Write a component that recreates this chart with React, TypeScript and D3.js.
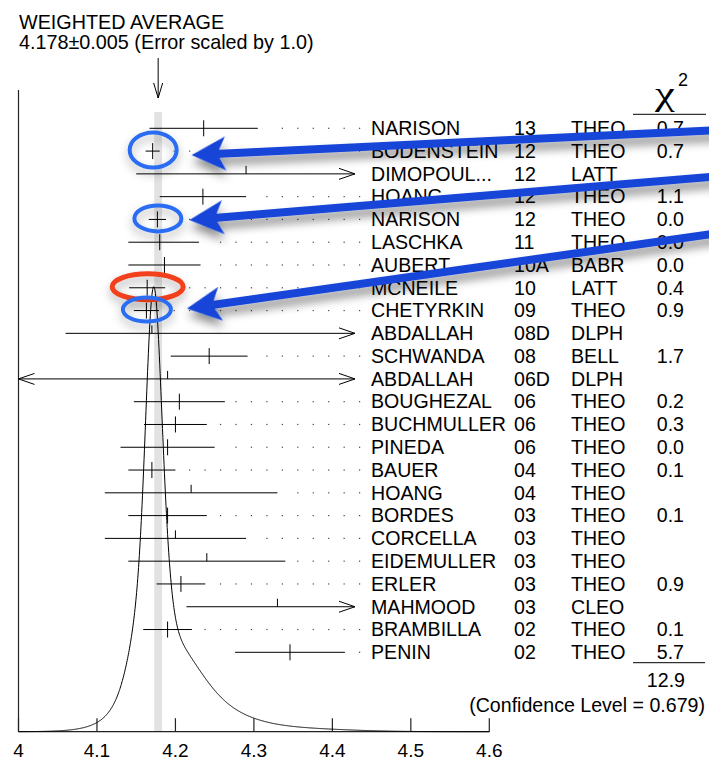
import React from "react";
import * as d3 from "d3";

// ---- measurements (mass in GeV) ----
const names = ["NARISON", "BODENSTEIN", "DIMOPOUL...", "HOANG", "NARISON", "LASCHKA", "AUBERT", "MCNEILE", "CHETYRKIN", "ABDALLAH", "SCHWANDA", "ABDALLAH", "BOUGHEZAL", "BUCHMULLER", "PINEDA", "BAUER", "HOANG", "BORDES", "CORCELLA", "EIDEMULLER", "ERLER", "MAHMOOD", "BRAMBILLA", "PENIN"];
const years = ["13", "12", "12", "12", "12", "11", "10A", "10", "09", "08D", "08", "06D", "06", "06", "06", "04", "04", "03", "03", "03", "03", "03", "02", "02"];
const techniques = ["THEO", "THEO", "LATT", "THEO", "THEO", "THEO", "BABR", "LATT", "THEO", "DLPH", "BELL", "DLPH", "THEO", "THEO", "THEO", "THEO", "THEO", "THEO", "THEO", "THEO", "THEO", "CLEO", "THEO", "THEO"];
const values = [4.236, 4.171, 4.29, 4.235, 4.177, 4.18, 4.186, 4.164, 4.163, 4.17, 4.243, 4.19, 4.205, 4.2, 4.19, 4.17, 4.22, 4.19, 4.2, 4.24, 4.207, 4.33, 4.19, 4.346];
const errMinus = [0.069, 0.009, 0.14, 0.055, 0.011, 0.04, 0.046, 0.023, 0.016, 0.11, 0.049, 0.4, 0.058, 0.04, 0.06, 0.03, 0.11, 0.05, 0.09, 0.1, 0.031, 0.116, 0.031, 0.07];
const errPlus = [0.069, 0.009, 0.14, 0.055, 0.011, 0.05, 0.046, 0.023, 0.016, 0.3, 0.049, 0.4, 0.058, 0.04, 0.06, 0.03, 0.11, 0.05, 0.09, 0.1, 0.031, 0.116, 0.031, 0.07];
// chi-square contribution; null = not used in the average
const chi2: (number | null)[] = [0.7, 0.7, null, 1.1, 0.0, 0.0, 0.0, 0.4, 0.9, null, 1.7, null, 0.2, 0.3, 0.0, 0.1, null, 0.1, null, null, 0.9, null, 0.1, 5.7];

const averageValue = 4.178;
const averageError = 0.005;
const errorScale = 1.0;
const chi2Total = 12.9;
const confidenceLevel = 0.679;

const xTicks = [4, 4.1, 4.2, 4.3, 4.4, 4.5, 4.6];

// highlighted entries (row index into the arrays above)
const circledRows = [1, 4, 7, 8];
const circleColors = ["#2a6cf2", "#2a6cf2", "#f2401c", "#2a6cf2"];
const circleRx = [23.5, 23.5, 35.5, 24];
const circleRy = [17.5, 13, 13, 12];
const pointerRows = [1, 4, 8];
const pointerSlopes = [-0.0474, -0.0827, -0.142];
const pointerOffsets = [
  [39, 4],
  [32, 0.6],
  [40.5, -2],
];

const W = 709;
const H = 759;
const FONT = "'Liberation Sans', Arial, Helvetica, sans-serif";
const FS = 19.6;

export default function App() {
  const x = d3.scaleLinear().domain([4, 4.6]).range([18.5, 489.3]);
  const rows = d3.range(names.length);
  const y = d3.scalePoint<number>().domain(rows).range([128.3, 652.3]);
  const baseY = 731.7;
  const plotTop = 90;
  const clipMin = 4.0;
  const clipMax = x.invert(355);

  // ideogram: each used measurement as a Gaussian of width sigma, area ~ 1/sigma
  const used = rows.filter((i) => chi2[i] !== null);
  const samples = d3.range(4, 4.6 + 1e-9, 0.0005);
  const density = samples.map((v) =>
    d3.sum(used, (i) => {
      const s = (errMinus[i] + errPlus[i]) / 2;
      const d = v - values[i];
      return Math.exp(-(d * d) / (2 * s * s)) / (s * s);
    })
  );
  const fMax = d3.max(density) as number;
  const yCurve = d3.scaleLinear().domain([0, fMax]).range([baseY, 286.7]);
  const curvePath = d3
    .line<number>()
    .x((_, k) => x(samples[k]))
    .y((d) => yCurve(d))(density) as string;

  // leader dots grid
  const dotLast = 359.6;
  const dotStep = 15.45;

  const colName = 371;
  const colYear = 514;
  const colTech = 571;
  const colChi = 684;

  const avgX = x(averageValue);

  const pointerPath = (len: number) =>
    `M0,0 L34,-17 L27.5,-4 L${len},-4 L${len},4 L27.5,4 L34,17 Z`;

  return (
    <svg
      width={W}
      height={H}
      viewBox={`0 0 ${W} ${H}`}
      style={{ position: "absolute", left: 0, top: 0, background: "#fff" }}
      fontFamily={FONT}
    >
      <defs>
        <filter id="soft-shadow" x="-20%" y="-150%" width="140%" height="400%">
          <feDropShadow dx="0" dy="7" stdDeviation="5" floodColor="#000" floodOpacity="0.45" />
        </filter>
        <filter id="ring-shadow" x="-60%" y="-80%" width="220%" height="260%">
          <feDropShadow dx="0" dy="5" stdDeviation="5" floodColor="#000" floodOpacity="0.3" />
        </filter>
      </defs>
      <rect width={W} height={H} fill="#fff" />

      {/* title */}
      <text x={19} y={29} fontSize={19.8} fill="#000">WEIGHTED AVERAGE</text>
      <text x={19} y={49} fontSize={19.8} fill="#000">
        {`${averageValue.toFixed(3)}±${averageError.toFixed(3)} (Error scaled by ${errorScale.toFixed(1)})`}
      </text>

      {/* average band */}
      <rect
        x={x(averageValue - averageError)}
        y={112}
        width={x(averageValue + averageError) - x(averageValue - averageError)}
        height={baseY - 112}
        fill="#e2e2e2"
      />
      {/* pointer to the average */}
      <g stroke="#000" strokeWidth={1} fill="none">
        <line x1={avgX} y1={58} x2={avgX} y2={98} />
        <polyline points={`${avgX - 4.5},83 ${avgX},98 ${avgX + 4.5},83`} />
      </g>

      {/* axes */}
      <g stroke="#222" strokeWidth={1.2} fill="none">
        <line x1={x(4)} y1={plotTop} x2={x(4)} y2={baseY} />
        <line x1={x(4)} y1={baseY} x2={x(4.6)} y2={baseY} />
        {xTicks.map((t) => (
          <line key={t} x1={x(t)} y1={baseY} x2={x(t)} y2={baseY - 13.5} />
        ))}
      </g>
      {xTicks.map((t) => (
        <text key={t} x={x(t)} y={756.5} fontSize={19} textAnchor="middle" fill="#000">
          {d3.format("~g")(t)}
        </text>
      ))}

      {/* ideogram */}
      <path d={curvePath} fill="none" stroke="#000" strokeWidth={1} />

      {/* measurements */}
      {rows.map((i) => {
        const yy = y(i) as number;
        const lo = values[i] - errMinus[i];
        const hi = values[i] + errPlus[i];
        const leftClipped = lo < clipMin;
        const rightClipped = hi > clipMax;
        const x1 = x(Math.max(lo, clipMin));
        const x2 = x(Math.min(hi, clipMax));
        const cx = x(values[i]);
        const isUsed = chi2[i] !== null;
        const dots: number[] = [];
        if (!rightClipped) {
          for (let p = dotLast; p > x2 + 10; p -= dotStep) dots.push(p);
        }
        return (
          <g key={i}>
            <g stroke="#000" strokeWidth={1} fill="none">
              <line x1={x1} y1={yy} x2={x2} y2={yy} />
              {isUsed ? (
                <line x1={cx} y1={yy - 8} x2={cx} y2={yy + 8} />
              ) : (
                <line x1={cx} y1={yy - 8} x2={cx} y2={yy} />
              )}
              {rightClipped && <polyline points={`${x2 - 16},${yy - 5.5} ${x2},${yy} ${x2 - 16},${yy + 5.5}`} />}
              {leftClipped && <polyline points={`${x1 + 16},${yy - 5.5} ${x1},${yy} ${x1 + 16},${yy + 5.5}`} />}
            </g>
            {dots.map((p) => (
              <rect key={p} x={p - 0.6} y={yy - 0.6} width={1.2} height={1.2} fill="#444" />
            ))}
            <text x={colName} y={yy + 6.8} fontSize={FS} fill="#000">{names[i]}</text>
            <text x={colYear} y={yy + 6.8} fontSize={FS} fill="#000">{years[i]}</text>
            <text x={colTech} y={yy + 6.8} fontSize={FS} fill="#000">{techniques[i]}</text>
            {isUsed && (
              <text x={colChi} y={yy + 6.8} fontSize={FS} textAnchor="end" fill="#000">
                {(chi2[i] as number).toFixed(1)}
              </text>
            )}
          </g>
        );
      })}

      {/* chi-square column header and total */}
      <text
        transform="translate(655,105) scale(1.35,1)"
        fontSize={33}
        fontFamily="'Liberation Serif', 'DejaVu Serif', serif"
        fill="#000"
      >
        χ
      </text>
      <text x={678} y={86} fontSize={18} fill="#000">2</text>
      <line x1={633} y1={114.3} x2={706} y2={114.3} stroke="#000" strokeWidth={1} />
      <line x1={633} y1={662.7} x2={705} y2={662.7} stroke="#000" strokeWidth={1} />
      <text x={685} y={687} fontSize={FS} textAnchor="end" fill="#000">{chi2Total.toFixed(1)}</text>
      <text x={705} y={712} fontSize={FS} textAnchor="end" fill="#000">
        {`(Confidence Level = ${confidenceLevel.toFixed(3)})`}
      </text>

      {/* highlight rings */}
      {circledRows.map((r, k) => (
        <ellipse
          key={r}
          cx={x(values[r]) + 0.5}
          cy={(y(r) as number) - 1}
          rx={circleRx[k]}
          ry={circleRy[k]}
          fill="none"
          stroke={circleColors[k]}
          strokeWidth={circleColors[k] === "#f2401c" ? 5 : 4}
          filter="url(#ring-shadow)"
        />
      ))}

      {/* pointer arrows */}
      {pointerRows.map((r, k) => {
        const tx = x(values[r]) + pointerOffsets[k][0];
        const ty = (y(r) as number) + pointerOffsets[k][1];
        const ang = (Math.atan(pointerSlopes[k]) * 180) / Math.PI;
        const len = (W + 40 - tx) / Math.cos((ang * Math.PI) / 180);
        return (
          <path
            key={r}
            d={pointerPath(len)}
            transform={`translate(${tx},${ty}) rotate(${ang})`}
            fill="#1244d8"
            filter="url(#soft-shadow)"
          />
        );
      })}
    </svg>
  );
}
